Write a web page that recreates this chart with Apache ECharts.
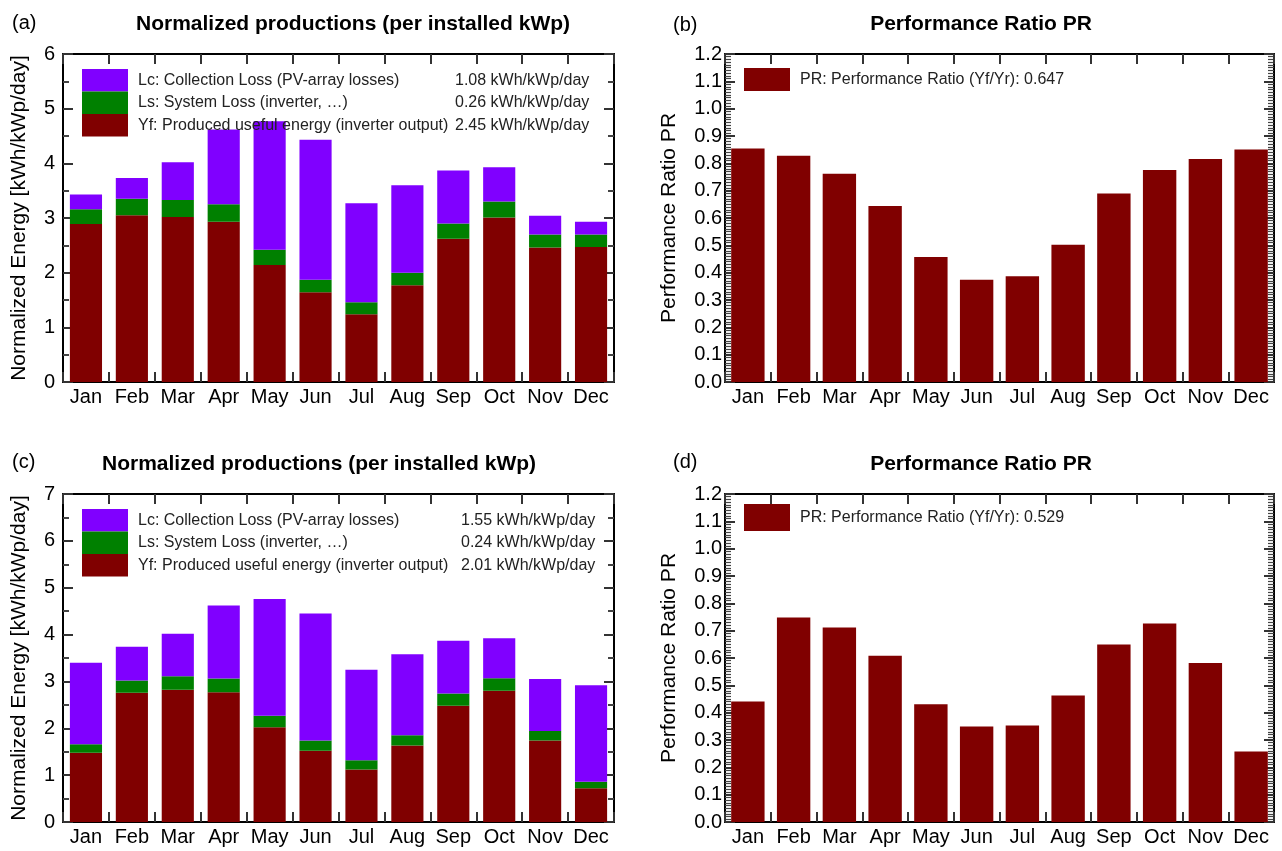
<!DOCTYPE html>
<html><head><meta charset="utf-8">
<script src="https://cdn.jsdelivr.net/npm/echarts@6/dist/echarts.min.js"></script>
<style>html,body{margin:0;padding:0;background:#fff}#c{width:1282px;height:851px}</style>
</head><body><div id="c"></div>
<script>
// ---- data ----
const months = ['Jan','Feb','Mar','Apr','May','Jun','Jul','Aug','Sep','Oct','Nov','Dec'];
// panel (a)
const yfA = [2.89,3.05,3.02,2.93,2.14,1.64,1.24,1.77,2.62,3.01,2.46,2.47];
const lsA = [0.27,0.30,0.31,0.32,0.28,0.23,0.22,0.23,0.28,0.29,0.24,0.23];
const lcA = [0.27,0.38,0.69,1.37,2.35,2.56,1.81,1.60,0.97,0.63,0.34,0.23];
// panel (c)
const yfC = [1.48,2.76,2.82,2.77,2.02,1.52,1.12,1.63,2.48,2.80,1.74,0.72];
const lsC = [0.18,0.26,0.29,0.29,0.25,0.22,0.20,0.22,0.26,0.27,0.20,0.14];
const lcC = [1.74,0.72,0.91,1.56,2.49,2.71,1.93,1.73,1.13,0.85,1.11,2.06];
// panels (b), (d)
const prB = [0.854,0.828,0.762,0.644,0.457,0.374,0.387,0.502,0.690,0.776,0.816,0.851];
const prD = [0.441,0.748,0.712,0.608,0.431,0.349,0.353,0.463,0.649,0.726,0.582,0.258];
// legend texts
const lossLabels = ['Lc: Collection Loss (PV-array losses)','Ls: System Loss (inverter, …)','Yf: Produced useful energy (inverter output)'];
const lossValuesA = ['1.08 kWh/kWp/day','0.26 kWh/kWp/day','2.45 kWh/kWp/day'];
const lossValuesC = ['1.55 kWh/kWp/day','0.24 kWh/kWp/day','2.01 kWh/kWp/day'];
const prLabelB = 'PR: Performance Ratio (Yf/Yr): 0.647';
const prLabelD = 'PR: Performance Ratio (Yf/Yr): 0.529';
const titles = ['Normalized productions (per installed kWp)','Performance Ratio PR','Normalized productions (per installed kWp)','Performance Ratio PR'];
const panelTags = ['(a)','(b)','(c)','(d)'];
const yNames = ['Normalized Energy [kWh/kWp/day]','Performance Ratio PR','Normalized Energy [kWh/kWp/day]','Performance Ratio PR'];
const yMax = [6,1.2,7,1.2];
const yStep = [1,0.1,1,0.1];

// ---- style ----
const FONT = "'Liberation Sans', Arial, sans-serif";
const C_LC = '#8000ff', C_LS = '#008000', C_YF = '#800000';
const LFS = 16;
const grids = [
  {left:63, top:54, width:551, height:328},
  {left:725, top:54, width:549, height:328},
  {left:63, top:494, width:551, height:328},
  {left:725, top:494, width:549, height:328}
];
const line = {show:true, lineStyle:{color:'#000', width:2}};
const tickStyle = {color:'#333', width:2};
const xAxes = [], yAxes = [];
grids.forEach((g,i)=>{
  const isPR = (i%2===1);
  xAxes.push({type:'category', gridIndex:i, data:months, position:'bottom',
    axisLine:{...line, onZero:false}, axisTick:{show:true, inside:true, length:10, lineStyle:tickStyle},
    axisLabel:{interval:0, margin:5, fontSize:20, color:'#000', fontFamily:FONT}});
  xAxes.push({type:'category', gridIndex:i, data:months, position:'top',
    axisLine:{...line, onZero:false}, axisTick:{show:true, inside:true, length:10, lineStyle:tickStyle},
    axisLabel:{show:false}});
  const minor = {show:true, splitNumber: isPR?10:2, length: 6, lineStyle:{color:'#444', width: isPR?1.2:2}};
  yAxes.push({type:'value', gridIndex:i, position:'left', min:0, max:yMax[i], interval:yStep[i],
    axisLine:line, axisTick:{show:true, inside:true, length:10, lineStyle:tickStyle},
    minorTick:minor, splitLine:{show:false},
    axisLabel:{margin: isPR?3:8, fontSize:20, color:'#000', fontFamily:FONT,
      formatter: v => isPR ? v.toFixed(1) : String(v)},
    name:yNames[i], nameLocation:'middle', nameGap: isPR?45:33,
    nameTextStyle:{fontSize:21, color:'#000', fontFamily:FONT}});
  yAxes.push({type:'value', gridIndex:i, position:'right', min:0, max:yMax[i], interval:yStep[i],
    axisLine:line, axisTick:{show:true, inside:true, length:10, lineStyle:tickStyle},
    minorTick:minor, splitLine:{show:false}, axisLabel:{show:false}});
});

function stackSeries(idx, tag, yf, ls, lc){
  const base = {type:'bar', xAxisIndex:2*idx, yAxisIndex:2*idx, stack:tag, barWidth:'70%'};
  return [
    {...base, name:'Yf_'+tag, data:yf, itemStyle:{color:C_YF}},
    {...base, name:'Ls_'+tag, data:ls, itemStyle:{color:C_LS}},
    {...base, name:'Lc_'+tag, data:lc, itemStyle:{color:C_LC}}
  ];
}
const series = [
  ...stackSeries(0,'a',yfA,lsA,lcA),
  {type:'bar', name:'PR_b', xAxisIndex:2, yAxisIndex:2, data:prB, barWidth:'73%', itemStyle:{color:C_YF}},
  ...stackSeries(2,'c',yfC,lsC,lcC),
  {type:'bar', name:'PR_d', xAxisIndex:6, yAxisIndex:6, data:prD, barWidth:'73%', itemStyle:{color:C_YF}}
];

const keyIdx = {Lc:0, Ls:1, Yf:2};
function lossLegend(tag, values, left, top, nameW){
  return {orient:'vertical', left, top, padding:0, itemGap:0, itemWidth:46, itemHeight:22.5, icon:'rect',
    data:['Lc_'+tag,'Ls_'+tag,'Yf_'+tag],
    formatter: n => { const k = keyIdx[n.split('_')[0]]; return '{n|'+lossLabels[k]+'}{v|'+values[k]+'}'; },
    textStyle:{fontFamily:FONT, fontSize:LFS, color:'#222',
      rich:{n:{fontFamily:FONT, fontSize:LFS, color:'#222', width:nameW, padding:[0,0,0,5]},
            v:{fontFamily:FONT, fontSize:LFS, color:'#222'}}}};
}
function prLegend(name, label, left, top, h){
  return {orient:'vertical', left, top, padding:0, itemWidth:46, itemHeight:h, icon:'rect', data:[name],
    formatter: () => '{n|'+label+'}',
    textStyle:{fontFamily:FONT, fontSize:LFS, color:'#222',
      rich:{n:{fontFamily:FONT, fontSize:LFS, color:'#222', padding:[0,0,0,5]}}}};
}

const titleComps = [];
const tpos = [[348,9],[976,9],[314,449],[976,449]];
const tagpos = [[7,8],[668,10],[7,447],[668,447]];
titles.forEach((t,i)=>{
  titleComps.push({text:t, left:tpos[i][0], top:tpos[i][1], textAlign:'center',
    textStyle:{fontFamily:FONT, fontSize:21, fontWeight:'bold', color:'#000'}});
  titleComps.push({text:panelTags[i], left:tagpos[i][0], top:tagpos[i][1],
    textStyle:{fontFamily:FONT, fontSize:20, fontWeight:'normal', color:'#000'}});
});

const chart = echarts.init(document.getElementById('c'), null, {renderer:'canvas'});
chart.setOption({
  animation:false,
  backgroundColor:'#fff',
  title:titleComps,
  grid:grids,
  xAxis:xAxes,
  yAxis:yAxes,
  legend:[
    lossLegend('a', lossValuesA, 82, 69, 317),
    prLegend('PR_b', prLabelB, 744, 68, 23),
    lossLegend('c', lossValuesC, 82, 509, 323),
    prLegend('PR_d', prLabelD, 744, 504, 27)
  ],
  series
});
</script></body></html>
